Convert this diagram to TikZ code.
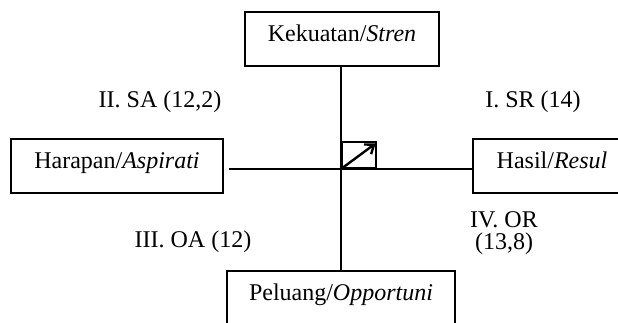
\documentclass[tikz,border=0pt]{standalone}
\usepackage{fontspec}
\setmainfont{Liberation Serif}
\usetikzlibrary{arrows.meta}
\begin{document}
\begin{tikzpicture}[x=1pt,y=-1pt,
  box/.style={draw, line width=1.6pt, rectangle, inner sep=0pt, text height=0.7em, text depth=0.22em},
  lbl/.style={inner sep=0pt, align=center},
  conn/.style={line width=1.6pt},
  every node/.style={font=\fontsize{24}{24}\selectfont}]
\useasboundingbox (0,0) rectangle (618,322);
\clip (0,0) rectangle (618,322);
% boxes
\node[box, minimum width=194pt, minimum height=54pt] (top) at (342,39) {Kekuatan/\textit{Stren}};
\node[box, minimum width=212pt, minimum height=54pt] (left) at (117,166) {Harapan/\textit{Aspirati}};
\node[box, minimum width=158pt, minimum height=54pt] (right) at (552,166) {Hasil/\textit{Resul}};
\node[box, minimum width=228pt, minimum height=70pt, anchor=north] (bot) at (341,270) {};
\node[lbl] (bottxt) at (341,295) {Peluang/\textit{Opportuni}};
% centre
\coordinate (c) at (341,169);
\draw[conn] (bot.north) -- (bot.north |- top.south);
\draw[conn, shorten <=5pt] (left.east |- c) -- (right.west |- c);
\node[draw, line width=1.6pt, minimum width=34pt, minimum height=26pt, anchor=south west, inner sep=0pt] (sq) at (c) {};
\draw[line width=2.4pt, -{Straight Barb[length=8pt, width=12pt, line width=2.4pt]}] (c) -- ([xshift=-1pt, yshift=-2pt]sq.north east);
% labels
\node[lbl] (sa) at (160,102) {II. SA (12,2)};
\node[lbl] (sr) at (533,102) {I. SR (14)};
\node[lbl] (oa) at (193,242) {III. OA (12)};
\node[lbl, font=\fontsize{24}{22}\selectfont] (or) at (504,233) {IV. OR\\(13,8)};
\end{tikzpicture}
\end{document}
